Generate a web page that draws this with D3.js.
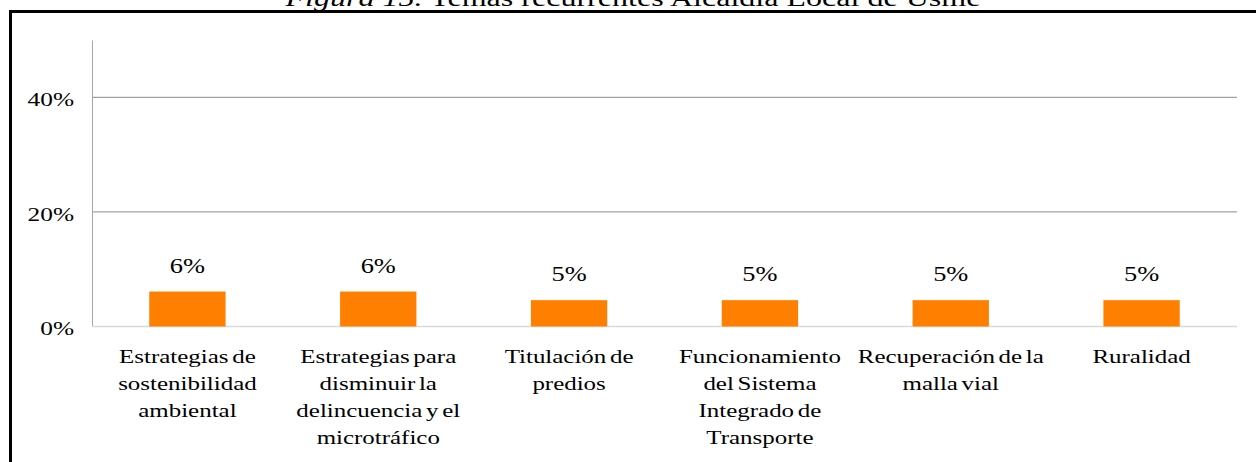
<!DOCTYPE html>
<html><head><meta charset="utf-8">
<script src="https://cdn.jsdelivr.net/npm/d3@7"></script>
<style>
html,body{margin:0;padding:0;background:#fff;}
svg{display:block;}
</style></head>
<body>
<svg id="c" width="1256" height="462"></svg>
<script>
const categories = [
  ["Estrategias de","sostenibilidad","ambiental"],
  ["Estrategias para","disminuir la","delincuencia y el","microtráfico"],
  ["Titulación de","predios"],
  ["Funcionamiento","del Sistema","Integrado de","Transporte"],
  ["Recuperación de la","malla vial"],
  ["Ruralidad"]
];
const values = [0.061, 0.061, 0.046, 0.046, 0.046, 0.046];
const yTicks = [0, 0.2, 0.4];
const titleItalic = "Figura 15.";
const titleRest = " Temas recurrentes Alcaldía Local de Usme";

const FONT = "'Liberation Serif', 'Times New Roman', 'DejaVu Serif', serif";
const svg = d3.select("#c").style("font-family", FONT);
const mLeft = 92, mRight = 1237, mTop = 40, mBottom = 326.5;

// outer frame
svg.append("path").attr("d", "M10.5,470 L10.5,11.5 L1260,11.5")
  .attr("fill","none").attr("stroke","#000").attr("stroke-width",3);

// title (cut at top, as in the source)
const t = svg.append("text").attr("x", 633).attr("y", 6).attr("text-anchor","middle")
  .style("font-family", FONT).attr("font-size", 24)
  .attr("textLength", 695).attr("lengthAdjust","spacingAndGlyphs");
t.append("tspan").attr("font-style","italic").text(titleItalic);
t.append("tspan").text(titleRest);

const x = d3.scaleBand().domain(d3.range(categories.length)).range([mLeft, mRight]).paddingInner(0.6).paddingOuter(0.3);
const y = d3.scaleLinear().domain([0, 0.5]).range([mBottom, mTop]);

// gridlines
svg.append("g").selectAll("line").data(yTicks.filter(d => d > 0)).join("line")
  .attr("x1", mLeft).attr("x2", mRight).attr("y1", d => y(d)).attr("y2", d => y(d))
  .attr("stroke", "#8c8c8c").attr("stroke-width", 1);

// y axis
const yAxis = d3.axisLeft(y).tickValues(yTicks).tickSize(0).tickPadding(18).tickFormat(d3.format(".0%"));
const ga = svg.append("g").attr("transform", `translate(${mLeft},0)`).call(yAxis);
ga.attr("font-family", null);
ga.select(".domain").attr("stroke", "#a6a6a6").attr("stroke-width", 1);
ga.selectAll(".tick text").style("font-family", FONT).attr("font-size", 19.5)
  .attr("fill","#000").attr("dy","0.42em")
  .attr("transform", "translate(-18,0) scale(1.3,1) translate(18,0)");

// baseline
svg.append("line").attr("x1", mLeft).attr("x2", mRight).attr("y1", y(0)).attr("y2", y(0))
  .attr("stroke", "#d9d9d9").attr("stroke-width", 1.5);

// bars
svg.append("g").selectAll("rect").data(values).join("rect")
  .attr("x", (d,i) => x(i)).attr("width", x.bandwidth())
  .attr("y", d => y(d)).attr("height", d => y(0) - y(d))
  .attr("fill", "#ff8000");

// value labels
svg.append("g").selectAll("g").data(values).join("g")
  .attr("transform", (d,i) => `translate(${x(i) + x.bandwidth()/2},${y(d) - 19}) scale(1.2,1)`)
  .append("text").attr("text-anchor","middle").style("font-family", FONT).attr("font-size", 22)
  .text(d => d3.format(".0%")(d));

// category labels
const cg = svg.append("g").selectAll("g").data(categories).join("g")
  .attr("transform", (d,i) => `translate(${x(i) + x.bandwidth()/2},363) scale(1.28,1)`);
cg.each(function(lines){
  const g = d3.select(this);
  lines.forEach((ln, k) => {
    g.append("text").attr("text-anchor","middle").style("font-family", FONT).attr("font-size", 19.5)
      .attr("word-spacing", -2).attr("y", k * 27).text(ln);
  });
});
</script>
</body></html>
